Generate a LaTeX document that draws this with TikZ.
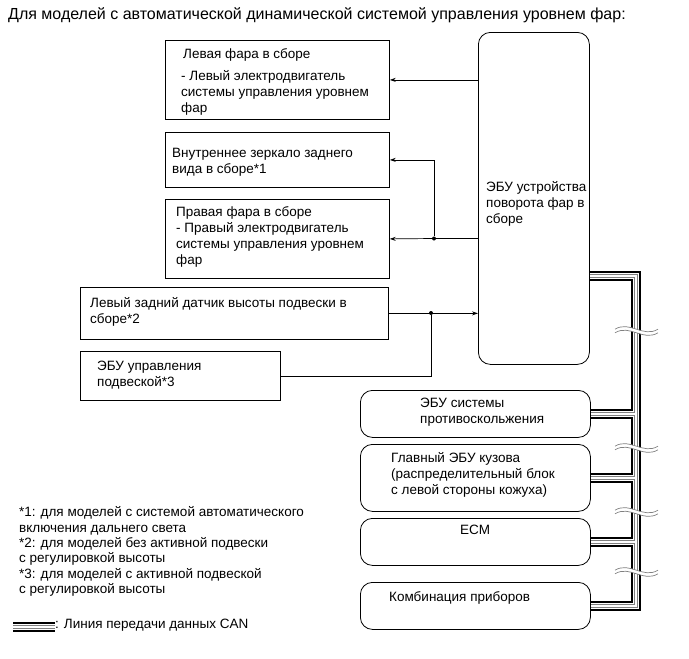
\documentclass[tikz,border=0pt]{standalone}
\usepackage{fontspec}
\setmainfont{Liberation Sans}
\usetikzlibrary{positioning,arrows.meta,calc}

\begin{document}
\begin{tikzpicture}[
    x=1pt, y=-1pt,
    font=\fontsize{13.5}{16}\selectfont,
    blk/.style={rectangle, draw, line width=0.8pt, anchor=north west, inner sep=0pt},
    rblk/.style={blk, rounded corners=12pt},
    txt/.style={anchor=north west, align=left, inner sep=0pt},
    arrow/.style={-{Stealth[length=6pt,width=4pt]}, line width=0.7pt},
    dot/.style={circle, fill, inner sep=0pt, minimum size=4pt},
    brk/.style={draw=gray, line width=0.7pt}
]
\useasboundingbox (0,0) rectangle (689,659);

% title
\node[txt, font=\fontsize{16}{18}\selectfont] (title) at (8,7) {Для моделей с автоматической динамической системой управления уровнем фар:};

% left column
\node[blk, minimum width=224pt, minimum height=79pt] (lhead) at (165,40) {};
\node[txt] (lheadtxt) at (183,48) {Левая фара в сборе\\[6pt]\hspace*{-2pt}- Левый электродвигатель\\\hspace*{-2pt}системы управления уровнем\\\hspace*{-2pt}фар};

\node[blk, minimum width=224pt, minimum height=55pt] (mirror) at (165,132) {};
\node[txt] (mirrortxt) at (172,148) {Внутреннее зеркало заднего\\вида в сборе*1};

\node[blk, minimum width=224pt, minimum height=79pt] (rhead) at (165,199) {};
\node[txt] (rheadtxt) at (176,206) {Правая фара в сборе\\- Правый электродвигатель\\системы управления уровнем\\фар};

\node[blk, minimum width=308pt, minimum height=52pt] (sens) at (80,287) {};
\node[txt] (senstxt) at (90,297) {Левый задний датчик высоты подвески в\\сборе*2};

\node[blk, minimum width=200pt, minimum height=49pt] (susp) at (80,351) {};
\node[txt] (susptxt) at (97,361) {ЭБУ управления\\подвеской*3};

% headlamp swivel ECU
\node[rblk, minimum width=111pt, minimum height=332pt] (ecu) at (478,32) {};
\node[txt] (ecutxt) at (486,181) {ЭБУ устройства\\поворота фар в\\сборе};

% right column
\node[rblk, minimum width=230pt, minimum height=47pt] (tcs) at (360,390) {};
\node[txt] (tcstxt) at (420,398) {ЭБУ системы\\противоскольжения};

\node[rblk, minimum width=230pt, minimum height=67pt] (body) at (360,444) {};
\node[txt] (bodytxt) at (391,452) {Главный ЭБУ кузова\\(распределительный блок\\с левой стороны кожуха)};

\node[rblk, minimum width=230pt, minimum height=47pt] (ecm) at (360,518) {};
\node[txt] (ecmtxt) at (460,525) {ECM};

\node[rblk, minimum width=230pt, minimum height=47pt] (cmb) at (360,582) {};
\node[txt] (cmbtxt) at (389,591) {Комбинация приборов};

% signal lines
\node[dot] (jr) at (434,238.5) {};
\node[dot] (jl) at (431,313) {};
\draw[arrow] (ecu.west |- lhead.east) -- (lhead.east);
\draw[arrow] (ecu.west |- jr) -- (jr) -- (rhead.east);
\draw[arrow] (jr) |- (mirror.east);
\draw[arrow] (sens.east) -- (sens.east -| ecu.west);
\draw[line width=0.7pt] (jl) |- (susp.east);

% CAN bus
\coordinate (bustop) at (635.5,276);
\coordinate (legA) at (13,627);
\coordinate (legB) at (55,627);
\foreach \lw/\lc in {10pt/black, 6pt/white, 4pt/gray, 2pt/white} {
  \draw[line width=\lw, draw=\lc] (ecu.east |- bustop) -- (bustop) |- (cmb.east);
  \draw[line width=\lw, draw=\lc] (tcs.east) -- (tcs.east -| bustop);
  \draw[line width=\lw, draw=\lc] (body.east) -- (body.east -| bustop);
  \draw[line width=\lw, draw=\lc] (ecm.east) -- (ecm.east -| bustop);
  \draw[line width=\lw, draw=\lc] (legA) -- (legB);
}

% break marks
\foreach \yb in {331,448,512,572} {
  \draw[white, line width=3pt] (615,\yb) .. controls (630,\yb-9) and (643,\yb+9) .. (658,\yb);
  \draw[brk] (615,\yb-1.8) .. controls (630,\yb-10.8) and (643,\yb+7.2) .. (658,\yb-1.8);
  \draw[brk] (615,\yb+1.8) .. controls (630,\yb-7.2) and (643,\yb+10.8) .. (658,\yb+1.8);
}

% notes
\node[txt] (notes) at (19,506) {*1: для моделей с системой автоматического\\включения дальнего света\\[-0.7pt]*2: для моделей без активной подвески\\[-0.7pt]с регулировкой высоты\\[-0.7pt]*3: для моделей с активной подвеской\\[-0.7pt]с регулировкой высоты};
\node[txt] (legtxt) at (55,619) {: Линия передачи данных CAN};

\end{tikzpicture}
\end{document}
